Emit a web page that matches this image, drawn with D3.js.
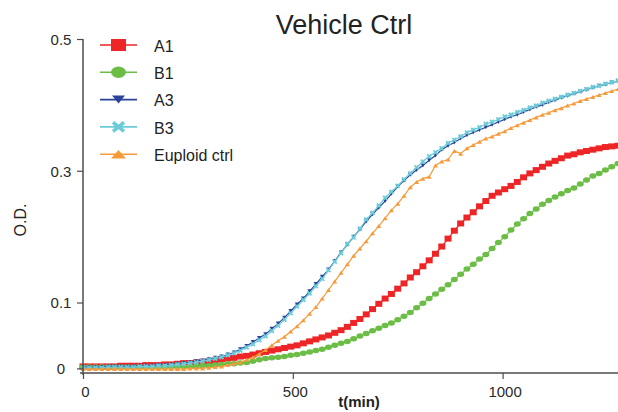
<!DOCTYPE html>
<html>
<head>
<meta charset="utf-8">
<script src="https://cdn.jsdelivr.net/npm/d3@7"></script>
<style>
  body { margin: 0; background: #fff; }
  text { font-family: Arial, "Liberation Sans", sans-serif; }
</style>
</head>
<body>
<div id="chart"></div>
<script>
// sampling times (min)
const times = [0,15,30,45,60,75,90,105,120,135,
  150,165,180,195,210,225,240,255,270,285,
  300,315,330,345,360,375,390,405,420,435,
  450,465,480,495,510,525,540,555,570,585,
  600,615,630,645,660,675,690,705,720,735,
  750,765,780,795,810,825,840,855,870,885,
  900,915,930,945,960,975,990,1005,1020,1035,
  1050,1065,1080,1095,1110,1125,1140,1155,1170,1185,
  1200,1215,1230,1245,1260,1275]

const a1 = [0.003,0.003,0.003,0.003,0.003,0.003,0.004,0.004,0.004,0.004,
  0.005,0.005,0.005,0.006,0.006,0.007,0.008,0.008,0.009,0.010,
  0.011,0.012,0.014,0.015,0.016,0.018,0.019,0.021,0.023,0.025,
  0.027,0.029,0.031,0.033,0.035,0.038,0.041,0.044,0.047,0.050,
  0.054,0.058,0.063,0.069,0.075,0.082,0.090,0.098,0.106,0.113,
  0.121,0.129,0.138,0.146,0.155,0.164,0.174,0.185,0.197,0.209,
  0.220,0.229,0.237,0.246,0.254,0.262,0.267,0.272,0.277,0.283,
  0.290,0.296,0.301,0.306,0.311,0.315,0.319,0.323,0.325,0.328,
  0.330,0.332,0.334,0.336,0.337,0.338]

const b1 = [0.002,0.002,0.002,0.002,0.002,0.002,0.002,0.002,0.002,0.002,
  0.002,0.002,0.002,0.002,0.003,0.003,0.003,0.003,0.003,0.004,
  0.004,0.005,0.006,0.007,0.007,0.008,0.009,0.011,0.013,0.015,
  0.016,0.017,0.018,0.020,0.021,0.023,0.025,0.027,0.029,0.032,
  0.035,0.038,0.041,0.045,0.049,0.053,0.057,0.061,0.065,0.069,
  0.074,0.079,0.085,0.092,0.099,0.106,0.113,0.120,0.127,0.135,
  0.143,0.151,0.158,0.166,0.173,0.182,0.191,0.200,0.210,0.219,
  0.227,0.235,0.242,0.249,0.255,0.260,0.265,0.270,0.274,0.280,
  0.286,0.292,0.296,0.301,0.306,0.311]

const a3 = [0.002,0.002,0.002,0.002,0.003,0.003,0.003,0.003,0.003,0.004,
  0.004,0.004,0.005,0.005,0.006,0.007,0.008,0.009,0.011,0.012,
  0.014,0.016,0.018,0.021,0.024,0.029,0.034,0.040,0.046,0.052,
  0.060,0.068,0.077,0.087,0.097,0.106,0.117,0.128,0.139,0.150,
  0.163,0.176,0.188,0.200,0.211,0.223,0.234,0.244,0.254,0.265,
  0.276,0.285,0.294,0.301,0.308,0.316,0.323,0.332,0.338,0.343,
  0.349,0.354,0.358,0.362,0.366,0.370,0.374,0.378,0.382,0.385,
  0.389,0.393,0.397,0.400,0.404,0.407,0.411,0.414,0.417,0.420,
  0.423,0.426,0.429,0.431,0.434,0.436]

const b3 = [0.001,0.001,0.001,0.001,0.002,0.002,0.002,0.002,0.002,0.003,
  0.003,0.003,0.004,0.004,0.005,0.006,0.007,0.008,0.009,0.011,
  0.013,0.015,0.017,0.020,0.023,0.027,0.032,0.037,0.043,0.049,
  0.057,0.065,0.074,0.084,0.094,0.104,0.114,0.125,0.136,0.149,
  0.162,0.175,0.189,0.199,0.212,0.226,0.236,0.247,0.259,0.268,
  0.277,0.287,0.296,0.305,0.314,0.322,0.328,0.334,0.342,0.347,
  0.352,0.358,0.362,0.366,0.371,0.374,0.378,0.382,0.385,0.389,
  0.392,0.396,0.399,0.403,0.406,0.409,0.412,0.415,0.418,0.421,
  0.424,0.427,0.429,0.432,0.434,0.437]

const euploid = [-0.001,-0.001,-0.001,-0.001,-0.001,-0.001,-0.001,-0.001,-0.001,-0.001,
  -0.001,-0.001,-0.001,-0.001,-0.001,-0.001,-0.001,0.000,0.000,0.000,
  0.001,0.002,0.003,0.005,0.007,0.009,0.013,0.017,0.022,0.028,
  0.035,0.042,0.048,0.056,0.064,0.073,0.083,0.093,0.106,0.119,
  0.132,0.145,0.158,0.171,0.182,0.193,0.205,0.216,0.228,0.240,
  0.250,0.262,0.275,0.283,0.288,0.291,0.308,0.314,0.317,0.330,
  0.326,0.334,0.339,0.344,0.349,0.352,0.356,0.360,0.365,0.369,
  0.373,0.377,0.381,0.385,0.388,0.392,0.395,0.399,0.402,0.406,
  0.409,0.412,0.415,0.418,0.421,0.424]

const seriesNames = ["A1", "B1", "A3", "B3", "Euploid ctrl"]
const xTicks = [0, 500, 1000]
const yTicks = [0, 0.1, 0.3, 0.5]

const W = 618, H = 412

const series = [
  { name: seriesNames[0], values: a1, color: "#ee2526", marker: "square" },
  { name: seriesNames[1], values: b1, color: "#6bbd45", marker: "circle" },
  { name: seriesNames[2], values: a3, color: "#2b4399", marker: "tridown" },
  { name: seriesNames[3], values: b3, color: "#6ccbd9", marker: "x" },
  { name: seriesNames[4], values: euploid, color: "#f79a3a", marker: "triup" }
]

const x = d3.scaleLinear().domain([0, 1275]).range([83, 618])
const y = d3.scaleLinear().domain([-0.007, 0.5]).range([373, 39])

const svg = d3.select("#chart").append("svg")
  .attr("width", W)
  .attr("height", H)

// marker shape, w/h = box size
function markerPath(type, w, h) {
  const a = w / 2, b = h / 2
  if (type == "tridown") return `M${-a},${-b}L${a},${-b}L0,${b}Z`
  if (type == "triup") return `M${-a},${b}L${a},${b}L0,${-b}Z`
  if (type == "x") return `M${-a},${-b}L${a},${b}M${-a},${b}L${a},${-b}`
  return ""
}

function drawMarker(g, type, color, w, h) {
  if (type == "square") {
    g.append("rect").attr("x", -w / 2).attr("y", -h / 2)
      .attr("width", w).attr("height", h).attr("fill", color)
  } else if (type == "circle") {
    g.append("ellipse").attr("rx", w / 2).attr("ry", h / 2).attr("fill", color)
  } else if (type == "x") {
    g.append("path").attr("d", markerPath(type, w, h))
      .attr("stroke", color).attr("stroke-width", 1.8).attr("fill", "none")
  } else {
    g.append("path").attr("d", markerPath(type, w, h)).attr("fill", color)
  }
}

const markerSize = {
  square: [7, 6], circle: [7, 5.5], tridown: [4.5, 4], x: [4, 4], triup: [5, 4]
}
const legendSize = {
  square: [15, 12], circle: [15, 11.5], tridown: [13, 8], x: [11, 9], triup: [15, 8.5]
}

// series
const line = d3.line()
  .x((d, i) => x(times[i]))
  .y(d => y(d))

series.forEach(s => {
  const g = svg.append("g")
  g.append("path")
    .datum(s.values)
    .attr("d", line)
    .attr("fill", "none")
    .attr("stroke", s.color)
    .attr("stroke-width", 1.2)

  const sz = markerSize[s.marker]
  g.selectAll("g.m")
    .data(s.values)
    .enter()
    .append("g")
    .attr("class", "m")
    .attr("transform", (d, i) => `translate(${x(times[i])},${y(d)})`)
    .each(function () { drawMarker(d3.select(this), s.marker, s.color, sz[0], sz[1]) })
})

// axes
const axisColor = "#4d4d4d"
const xAxis = svg.append("g")
  .attr("transform", `translate(0,${y.range()[0]})`)
  .call(d3.axisBottom(x).tickValues(xTicks).tickSize(6).tickSizeOuter(0).tickFormat(d3.format("d")))
xAxis.select(".domain").attr("d", `M80,0H618`)

const yAxis = svg.append("g")
  .attr("transform", `translate(${x(0)},0)`)
  .call(d3.axisLeft(y).tickValues(yTicks).tickSize(6).tickSizeOuter(0).tickFormat(d => d == 0 ? "0" : d3.format(".1f")(d)))
yAxis.select(".domain").attr("d", `M0,${y(0.5)}V375`)

svg.selectAll(".domain").attr("stroke", axisColor).attr("stroke-width", 1.5)
svg.selectAll(".tick line").attr("stroke", axisColor).attr("stroke-width", 1.2)
svg.selectAll(".tick text")
  .attr("fill", "#2a2a2a")
  .style("font-size", "15px")
  .style("font-family", "Arial, 'Liberation Sans', sans-serif")

xAxis.selectAll(".tick text").attr("y", 13).attr("dx", "2px")
yAxis.selectAll(".tick text").attr("x", -22).attr("text-anchor", "middle").attr("dy", "0.35em")

// title and labels
svg.append("text")
  .attr("x", 344)
  .attr("y", 34)
  .attr("text-anchor", "middle")
  .attr("fill", "#222")
  .style("font-size", "27px")
  .text("Vehicle Ctrl")

svg.append("text")
  .attr("x", 359)
  .attr("y", 407)
  .attr("text-anchor", "middle")
  .attr("fill", "#222")
  .style("font-size", "15px")
  .style("font-weight", "bold")
  .text("t(min)")

svg.append("text")
  .attr("transform", "translate(26,220) rotate(-90)")
  .attr("text-anchor", "middle")
  .attr("fill", "#222")
  .style("font-size", "16px")
  .text("O.D.")

// legend
const legend = svg.append("g").attr("transform", "translate(100,45)")
series.forEach((s, i) => {
  const row = legend.append("g").attr("transform", `translate(0,${i * 27.3})`)
  row.append("line")
    .attr("x1", 0).attr("x2", 37)
    .attr("stroke", s.color).attr("stroke-width", 1.6)
  const m = row.append("g").attr("transform", "translate(18.5,0)")
  const sz = legendSize[s.marker]
  drawMarker(m, s.marker, s.color, sz[0], sz[1])
  if (s.marker == "x") m.select("path").attr("stroke-width", 3.5)
  row.append("text")
    .attr("x", 54)
    .attr("y", 1)
    .attr("dy", "0.35em")
    .attr("fill", "#222")
    .style("font-size", "16px")
    .text(s.name)
})
</script>
</body>
</html>
